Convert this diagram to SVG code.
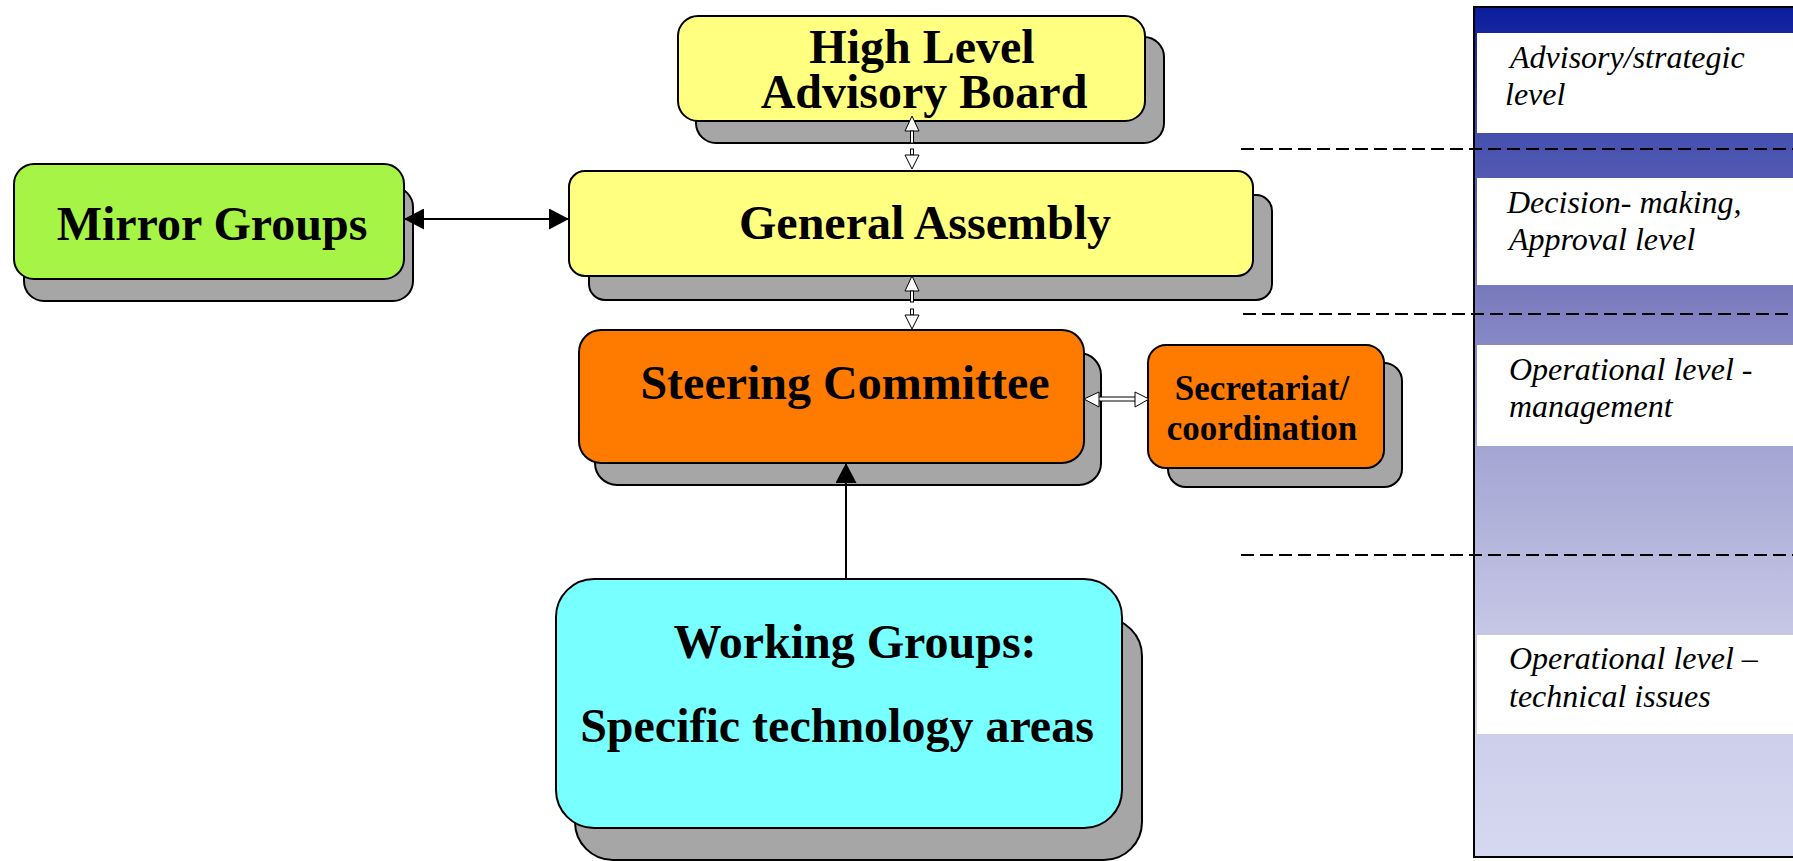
<svg xmlns="http://www.w3.org/2000/svg" width="1793" height="861" viewBox="0 0 1793 861">
<style>
.sh{fill:#a6a6a6;stroke:#000;stroke-width:2}
.box{stroke:#000;stroke-width:2}
.yel{fill:#ffff80}
.grn{fill:#a6f546}
.org{fill:#ff7b00}
.cyn{fill:#78ffff}
.t{font-family:"Liberation Serif","Times New Roman",serif;font-weight:bold;fill:#000}
.lv{font-family:"Liberation Serif","Times New Roman",serif;font-style:italic;font-size:32px;fill:#000}
.hol{fill:#fff;stroke:#000;stroke-width:1}
.ln{stroke:#000;stroke-width:2;fill:none}
.dash{stroke:#000;stroke-width:2;stroke-dasharray:13 6;fill:none}
</style>
<defs>
<marker id="ah" viewBox="0 0 20 21" refX="20" refY="10.5" markerWidth="20" markerHeight="21" orient="auto-start-reverse" markerUnits="userSpaceOnUse">
<path d="M0,0 L20,10.5 L0,21 z" fill="#000"/>
</marker>
<linearGradient id="pg" gradientUnits="userSpaceOnUse" x1="0" y1="7" x2="0" y2="857">
<stop offset="0" stop-color="#0b1c9c"/>
<stop offset="0.156" stop-color="#4650ae"/>
<stop offset="0.345" stop-color="#7b7dbf"/>
<stop offset="0.521" stop-color="#a4a5d3"/>
<stop offset="0.733" stop-color="#c6c7e5"/>
<stop offset="1" stop-color="#d6d7f0"/>
</linearGradient>
</defs>
<rect width="1793" height="861" fill="#fff"/>

<g id="levels-panel">
<rect x="1474" y="7" width="330" height="850" fill="url(#pg)" stroke="#000" stroke-width="2"/>
<rect x="1477" y="33" width="316" height="100" fill="#fff"/>
<rect x="1477" y="178" width="316" height="107" fill="#fff"/>
<rect x="1477" y="345" width="316" height="101" fill="#fff"/>
<rect x="1477" y="635" width="316" height="99" fill="#fff"/>
<text class="lv" x="1510" y="68">Advisory/strategic</text>
<text class="lv" x="1505" y="105">level</text>
<text class="lv" x="1507" y="213">Decision- making,</text>
<text class="lv" x="1509" y="250">Approval level</text>
<text class="lv" x="1509" y="380">Operational level -</text>
<text class="lv" x="1509" y="417">management</text>
<text class="lv" x="1509" y="669">Operational level –</text>
<text class="lv" x="1509" y="707">technical issues</text>
</g>

<g id="level-separators">
<line class="dash" x1="1241" y1="149" x2="1793" y2="149"/>
<line class="dash" x1="1243" y1="314" x2="1793" y2="314"/>
<line class="dash" x1="1241" y1="555" x2="1793" y2="555"/>
</g>

<g id="high-level-advisory-board">
<rect class="sh" x="696" y="37" width="468" height="106" rx="20"/>
<rect class="box yel" x="678" y="16" width="467" height="105" rx="20"/>
<text class="t" font-size="48" x="922" y="63" text-anchor="middle">High Level</text>
<text class="t" font-size="48" x="924" y="108" text-anchor="middle">Advisory Board</text>
</g>

<g id="mirror-groups">
<rect class="sh" x="24" y="187" width="389" height="114" rx="20"/>
<rect class="box grn" x="14" y="164" width="390" height="115" rx="20"/>
<text class="t" font-size="48" x="212" y="240" text-anchor="middle">Mirror Groups</text>
</g>

<g id="general-assembly">
<rect class="sh" x="589" y="195" width="683" height="105" rx="16"/>
<rect class="box yel" x="569" y="171" width="684" height="105" rx="16"/>
<text class="t" font-size="48" x="925" y="239" text-anchor="middle">General Assembly</text>
</g>

<g id="steering-committee">
<rect class="sh" x="595" y="353" width="506" height="132" rx="22"/>
<rect class="box org" x="579" y="330" width="505" height="133" rx="22"/>
<text class="t" font-size="48" x="845" y="399" text-anchor="middle">Steering Committee</text>
</g>

<g id="secretariat">
<rect class="sh" x="1168" y="363" width="234" height="124" rx="18"/>
<rect class="box org" x="1148" y="345" width="236" height="123" rx="18"/>
<text class="t" font-size="35" x="1262" y="400" text-anchor="middle">Secretariat/</text>
<text class="t" font-size="35" x="1262" y="440" text-anchor="middle">coordination</text>
</g>

<g id="working-groups">
<rect class="sh" x="575" y="618" width="567" height="242" rx="38"/>
<rect class="box cyn" x="556" y="579" width="566" height="249" rx="38"/>
<text class="t" font-size="48" x="855" y="658" text-anchor="middle">Working Groups:</text>
<text class="t" font-size="48" x="837" y="742" text-anchor="middle">Specific technology areas</text>
</g>

<g id="connectors">
<line class="ln" x1="404" y1="219" x2="569" y2="219" marker-start="url(#ah)" marker-end="url(#ah)"/>
<line class="ln" x1="846" y1="579" x2="846" y2="463" marker-end="url(#ah)"/>
<polygon class="hol" points="912,116 905,131 919,131"/>
<rect class="hol" x="910.5" y="131" width="3" height="12"/>
<rect class="hol" x="910.5" y="149" width="3" height="6"/>
<polygon class="hol" points="905,155 919,155 912,169"/>
<polygon class="hol" points="912,276 905,291 919,291"/>
<rect class="hol" x="910.5" y="291" width="3" height="11"/>
<rect class="hol" x="910.5" y="309" width="3" height="6"/>
<polygon class="hol" points="905,315 919,315 912,329"/>
<rect class="hol" x="1097" y="397" width="40" height="4"/>
<polygon class="hol" points="1084,399 1099,392 1099,407"/>
<polygon class="hol" points="1135,392 1135,407 1149,399"/>
</g>
</svg>
